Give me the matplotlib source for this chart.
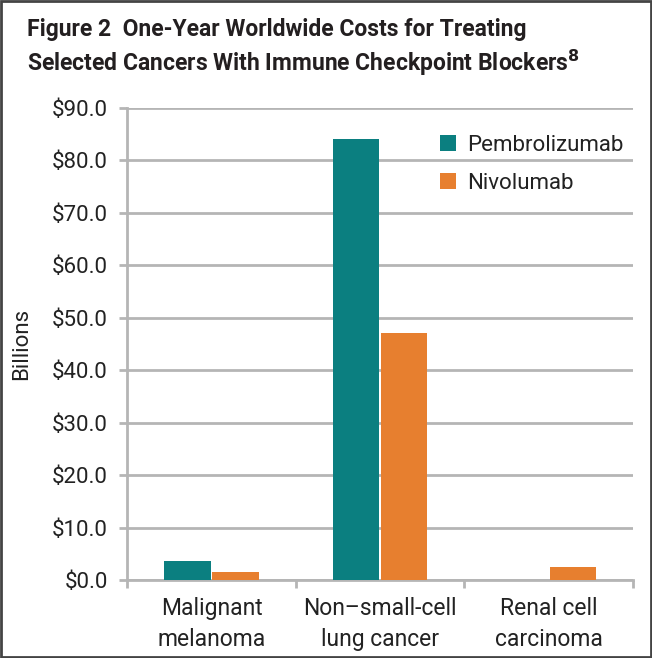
import numpy as np
import matplotlib
matplotlib.use('Agg')
import matplotlib.pyplot as plt
from matplotlib.patches import Rectangle

## donnees
categories = ['Malignant\nmelanoma', 'Non\u2013small-cell\nlung cancer', 'Renal cell\ncarcinoma']
pembrolizumab = [3.6, 84.0, 0.0]
nivolumab = [1.5, 47.1, 2.5]
yticks = [0, 10, 20, 30, 40, 50, 60, 70, 80, 90]

teal = '#0b7f80'
orange = '#e77f2f'
grid_col = '#b5b5b5'

plt.rcParams['font.family'] = ['Roboto', 'DejaVu Sans']

fig = plt.figure(figsize=(6.52, 6.58), dpi=100)
ax = fig.add_axes([0.195, 0.1185, 0.776, 0.7175])

x = np.arange(len(categories))
w = 0.275
ax.bar(x - w / 2 - 0.005, pembrolizumab, w, color=teal, label='Pembrolizumab', zorder=3)
ax.bar(x + w / 2 + 0.005, nivolumab, w, color=orange, label='Nivolumab', zorder=3)

ax.set_xlim(-0.5, 2.5)
ax.set_ylim(0, 90)
ax.set_yticks(yticks)
ax.set_yticklabels(['${:.1f}'.format(v) for v in yticks], fontsize=16, color='#222222')
ax.set_xticks([-0.5, 0.5, 1.5, 2.5])
ax.set_xticklabels([])
ax.set_xticks(x, minor=True)
ax.set_xticklabels(categories, minor=True, fontsize=16.5, color='#222222', linespacing=1.45)
ax.tick_params(axis='x', which='major', length=6, color=grid_col, width=2)
ax.tick_params(axis='x', which='minor', length=0, pad=12)
ax.tick_params(axis='y', length=6, color=grid_col, width=2, pad=8)

ax.yaxis.grid(True, color=grid_col, linewidth=2, zorder=0)
for s in ['top', 'right']:
    ax.spines[s].set_visible(False)
ax.spines['left'].set_color(grid_col)
ax.spines['left'].set_linewidth(2)
ax.spines['bottom'].set_color(grid_col)
ax.spines['bottom'].set_linewidth(2)

ax.set_ylabel('Billions', fontsize=16, color='#222222', labelpad=14)

leg = ax.legend(loc='upper right', bbox_to_anchor=(1.02, 0.985), frameon=False, fontsize=16,
                handlelength=0.7, handleheight=0.7, handletextpad=0.5, labelspacing=0.75)
for t in leg.get_texts():
    t.set_color('#222222')

fig.text(0.041, 0.955, 'Figure 2  One-Year Worldwide Costs for Treating', fontsize=16.5,
         fontweight='bold', color='#231f20', va='center')
fig.text(0.041, 0.905, 'Selected Cancers With Immune Checkpoint Blockers$^{\\mathbf{8}}$', fontsize=16.5,
         fontweight='bold', color='#231f20', va='center')

fig.patches.append(Rectangle((0.002, 0.002), 0.996, 0.996, transform=fig.transFigure,
                             fill=False, edgecolor='#444444', linewidth=2))

plt.savefig('out.png', dpi=100)
